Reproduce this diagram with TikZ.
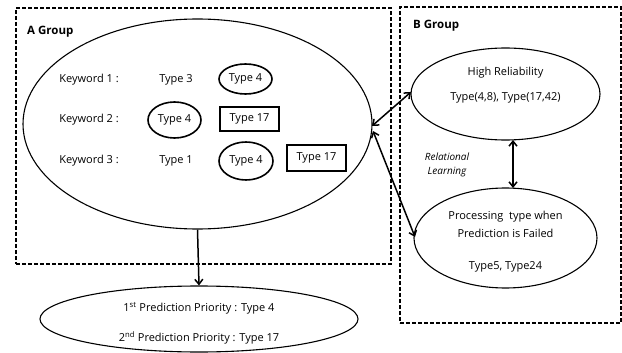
\documentclass[tikz,border=0pt]{standalone}
\usepackage{fontspec}
\setmainfont{Open Sans}
\usetikzlibrary{shapes.geometric,arrows.meta}
\tikzset{
  groupbox/.style={draw, line width=1.6pt, dash pattern=on 4pt off 2pt},
  bigell/.style={draw, ellipse, line width=1.1pt, inner sep=0pt},
  tagell/.style={draw, ellipse, line width=1.6pt, inner sep=0pt},
  tagbox/.style={draw, rectangle, line width=1.6pt, inner sep=0pt},
  txt/.style={font=\fontsize{11}{12}\selectfont, inner sep=0pt},
  lbl/.style={font=\fontsize{11.5}{13}\selectfont\bfseries, inner sep=0pt, anchor=west},
  link/.style={line width=1.5pt, {Straight Barb[length=5pt,width=8pt]}-{Straight Barb[length=5pt,width=8pt]}},
  down/.style={line width=1.5pt, -{Straight Barb[length=5pt,width=8pt]}}
}
\begin{document}
\begin{tikzpicture}[x=1pt,y=-1pt]
\useasboundingbox (0,0) rectangle (622,353);
% group frames
\node[groupbox, minimum width=375pt, minimum height=256pt, anchor=north west] (ga) at (15,7) {};
\node[groupbox, minimum width=221pt, minimum height=316pt, anchor=north west] (gb) at (399,6) {};
\node[lbl] (la) at (27,32) {A Group};
\node[lbl] (lb) at (413,26) {B Group};
% A group contents
\node[bigell, minimum width=349pt, minimum height=210pt] (ea) at (197.5,124) {};
\node[txt] (k1) at (89,80) {Keyword 1 :};
\node[txt] (k2) at (89,120) {Keyword 2 :};
\node[txt] (k3) at (89,161) {Keyword 3 :};
\node[txt] (t13) at (176,80) {Type 3};
\node[tagell, minimum width=53pt, minimum height=30pt, txt] (t14) at (245.5,79) {Type 4};
\node[tagell, minimum width=53pt, minimum height=36pt, txt] (t24) at (174.5,120) {Type 4};
\node[tagbox, minimum width=59pt, minimum height=24pt, txt] (t217) at (249.5,119) {Type 17};
\node[txt] (t31) at (176,161) {Type 1};
\node[tagell, minimum width=54pt, minimum height=38pt, txt] (t34) at (246,161) {Type 4};
\node[tagbox, minimum width=59pt, minimum height=26pt, txt] (t317) at (316.5,158) {Type 17};
% prediction result
\node[bigell, minimum width=318pt, minimum height=66pt] (ep) at (199,319) {};
\node[txt] (p1) at (199,308) {1\textsuperscript{st} Prediction Priority : Type 4};
\node[txt] (p2) at (199,338) {2\textsuperscript{nd} Prediction Priority : Type 17};
\draw[down] (ea.south) -- (ep.north);
% B group contents
\node[bigell, minimum width=189pt, minimum height=92pt] (eh) at (505.5,94) {};
\node[txt] (h1) at (505.5,73) {High Reliability};
\node[txt] (h2) at (505.5,98) {Type(4,8), Type(17,42)};
\node[bigell, minimum width=183pt, minimum height=100pt] (ef) at (505.5,238) {};
\node[txt] (f1) at (505.5,217) {Processing \ type when};
\node[txt] (f2) at (505.5,233) {Prediction is Failed};
\node[txt] (f3) at (505.5,267) {Type5, Type24};
\node[font=\rmfamily\itshape\fontsize{10}{11}\selectfont, align=center, inner sep=0pt] (rl) at (447,165) {Relational\\[3pt]Learning};
\coordinate (hb) at (513,140);
\coordinate (ft) at (513,188);
\draw[link] (hb) -- (ft);
% links between groups
\coordinate (a1) at (372,126);
\coordinate (a2) at (373,131);
\coordinate (b1) at (411,92);
\coordinate (b2) at (415,237);
\draw[link] (a1) -- (b1);
\draw[link] (a2) -- (b2);
\end{tikzpicture}
\end{document}
